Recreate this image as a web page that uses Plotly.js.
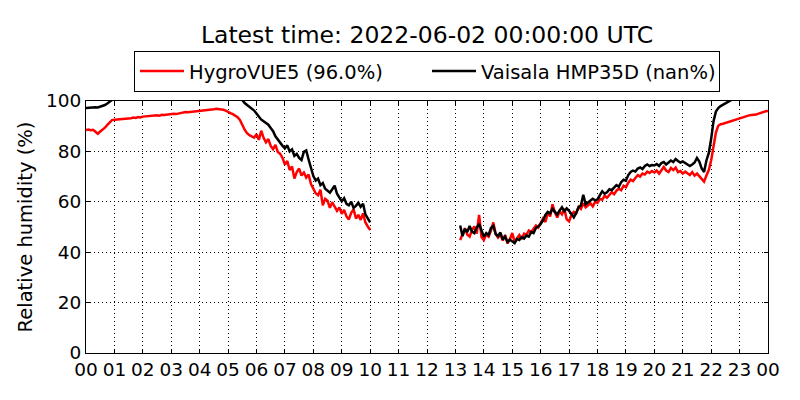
<!DOCTYPE html>
<html>
<head>
<meta charset="utf-8">
<script src="https://cdn.plot.ly/plotly-3.0.1.min.js"></script>
<style>
  body { margin: 0; background: #ffffff; }
  #rhPlot { width: 800px; height: 400px; }
</style>
</head>
<body>
<div id="rhPlot"></div>
<script>
// hour labels for the x axis (00 .. 23, then 00 of the next day)
var hourTicks = [0, 1, 2, 3, 4, 5, 6, 7, 8, 9, 10, 11, 12, 13, 14, 15, 16, 17, 18, 19, 20, 21, 22, 23, 24];
var hourLabels = ['00', '01', '02', '03', '04', '05', '06', '07', '08', '09', '10', '11',
                  '12', '13', '14', '15', '16', '17', '18', '19', '20', '21', '22', '23', '00'];

// 5 minute samples, one row per hour (null = no data)
var hygroVUE5 = [
  88.5, 88.7, 88.4, 88.6, 87.8, 87.0, 87.9, 88.6, 89.4, 90.5, 91.6, 92.4,
  92.6, 92.7, 92.6, 92.9, 92.8, 93.0, 92.9, 93.2, 93.4, 93.3, 93.6, 93.5,
  93.8, 93.9, 94.1, 93.9, 94.0, 94.2, 94.3, 94.2, 94.5, 94.4, 94.6, 94.5,
  94.7, 94.9, 94.8, 95.0, 95.3, 95.4, 95.6, 95.5, 95.6, 95.8, 95.7, 95.9,
  96.0, 96.1, 96.3, 96.2, 96.5, 96.4, 96.7, 96.9, 96.8, 96.7, 96.5, 96.2,
  95.6, 95.2, 94.8, 94.3, 93.6, 92.5, 90.4, 88.6, 87.2, 86.4, 86.0, 85.5,
  86.8, 84.6, 88.2, 85.4, 83.6, 84.9, 82.2, 80.9, 82.6, 79.8, 79.0, 77.4,
  74.8, 76.2, 72.6, 74.0, 69.2, 71.8, 73.2, 70.4, 71.6, 69.6, 70.8, 67.0,
  65.2, 63.4, 62.6, 64.8, 58.6, 61.2, 60.4, 57.6, 59.8, 58.2, 56.4, 57.8,
  55.2, 56.8, 54.2, 53.0, 55.6, 57.0, 53.4, 54.8, 52.8, 55.4, 51.8, 50.2,
  48.8, null, null, null, null, null, null, null, null, null, null, null,
  null, null, null, null, null, null, null, null, null, null, null, null,
  null, null, null, null, null, null, null, null, null, null, null, null,
  null, null, 44.8, 47.5, 49.5, 47.0, 46.2, 48.8, 50.2, 47.4, 54.8, 46.0,
  44.8, 47.0, 46.2, 48.5, 51.8, 47.2, 45.8, 47.0, 44.6, 46.8, 43.5, 45.2,
  47.6, 44.2, 45.6, 46.8, 45.2, 47.4, 47.0, 48.6, 48.0, 49.2, 50.6, 49.8,
  51.5, 53.4, 52.0, 55.6, 54.2, 59.0, 55.8, 53.8, 56.2, 55.0, 57.2, 53.0,
  52.2, 54.8, 56.0, 55.4, 58.0, 57.2, 59.4, 57.8, 58.6, 59.4, 58.2, 60.0,
  59.6, 61.2, 60.8, 62.4, 61.6, 62.8, 63.8, 63.0, 64.4, 65.2, 64.6, 66.4,
  65.8, 67.6, 68.8, 68.2, 69.4, 70.6, 70.0, 71.2, 70.8, 72.0, 71.4, 72.2,
  71.6, 72.4, 71.2, 72.6, 73.8, 72.4, 71.8, 73.4, 72.6, 73.6, 71.8, 72.2,
  71.2, 72.0, 71.4, 70.6, 71.8, 70.4, 71.2, 70.2, 69.0, 68.0, 70.4, 72.6,
  76.5, 82.5, 87.5, 90.2, 90.8, 91.0, 91.3, 91.6, 92.0, 92.3, 92.5, 92.8,
  93.2, 93.6, 93.9, 94.2, 94.3, 94.4, 94.5, 94.6, 95.0, 95.4, 95.7, 95.9,
  96.0
];

var vaisalaHMP35D = [
  97.2, 97.3, 97.2, 97.4, 97.5, 97.4, 97.7, 98.0, 98.4, 99.0, 99.8, 100.6,
  101.2, 101.4, 101.5, 101.4, 101.6, 101.5, 101.7, 101.6, 101.8, 101.7, 101.8, 101.9,
  101.8, 101.9, 102.0, 101.9, 102.0, 102.1, 102.0, 102.1, 102.2, 102.1, 102.2, 102.1,
  102.2, 102.3, 102.2, 102.3, 102.4, 102.3, 102.4, 102.3, 102.4, 102.5, 102.4, 102.5,
  102.4, 102.5, 102.4, 102.5, 102.6, 102.5, 102.6, 102.5, 102.4, 102.4, 102.3, 102.2,
  102.1, 102.0, 101.9, 101.8, 101.6, 101.2, 100.4, 99.2, 98.4, 97.6, 97.0, 96.2,
  95.0, 93.6, 92.6, 92.0, 91.4, 90.6, 89.3, 88.0, 86.0, 84.6, 83.4, 82.2,
  81.2, 82.4, 80.0, 80.8, 78.2, 79.0, 77.4, 76.6, 79.8, 80.4, 76.8, 73.6,
  70.2, 68.4, 69.2, 66.6, 67.4, 65.2, 64.2, 63.6, 65.0, 66.4, 63.2, 61.6,
  60.2, 61.4, 59.2, 58.6, 60.0, 57.6, 58.4, 59.6, 58.0, 59.2, 55.0, 53.4,
  51.8, null, null, null, null, null, null, null, null, null, null, null,
  null, null, null, null, null, null, null, null, null, null, null, null,
  null, null, null, null, null, null, null, null, null, null, null, null,
  null, null, 50.6, 46.4, 49.2, 48.0, 50.4, 48.2, 47.6, 49.8, 51.2, 48.4,
  46.2, 47.6, 46.8, 49.6, 50.4, 47.2, 46.4, 47.8, 45.0, 46.2, 44.0, 45.0,
  44.4, 43.6, 45.2, 44.8, 46.0, 45.4, 46.6, 46.2, 48.0, 47.6, 49.6, 50.2,
  51.2, 52.6, 54.8, 56.0, 55.4, 57.2, 56.0, 55.0, 56.6, 57.8, 56.2, 57.4,
  56.4, 55.2, 53.8, 55.6, 57.8, 58.6, 62.8, 59.0, 59.8, 60.4, 61.2, 60.6,
  61.0, 62.6, 64.2, 63.2, 63.8, 65.0, 64.6, 65.6, 66.6, 66.0, 67.8, 68.8,
  68.4, 70.6, 71.8, 72.4, 72.0, 73.2, 73.6, 73.0, 74.2, 74.8, 74.2, 74.6,
  74.4, 75.0, 74.2, 75.4, 75.8, 74.8, 75.6, 76.4, 75.8, 77.0, 76.2, 75.6,
  76.0, 75.4, 75.0, 74.2, 74.8, 75.6, 77.4, 76.0, 73.2, 71.8, 76.4, 79.4,
  85.0, 92.0, 95.8, 97.2, 98.0, 98.6, 99.2, 99.7, 100.3, 100.8, 101.2, 101.4,
  101.5, 101.6, 101.5, 101.7, 101.6, 101.8, 101.7, 101.9, 101.8, 102.0, 101.9, 102.0,
  null
];

// sample times in hours since midnight
var hours = hygroVUE5.map(function (v, i) { return i / 12; });

function createHumidityPlot() {
  var red = {
    x: hours,
    y: hygroVUE5,
    mode: 'lines',
    name: 'HygroVUE5 (96.0%)',
    connectgaps: false,
    line: { color: '#ff0000', width: 2.5 }
  };

  var black = {
    x: hours,
    y: vaisalaHMP35D,
    mode: 'lines',
    name: 'Vaisala HMP35D (nan%)',
    connectgaps: false,
    line: { color: '#000000', width: 2.5 }
  };

  var tickFont = { family: 'DejaVu Sans', size: 18.5, color: '#000000' };

  var layout = {
    width: 800,
    height: 400,
    margin: { l: 86, r: 32, t: 101, b: 47 },
    paper_bgcolor: '#ffffff',
    plot_bgcolor: '#ffffff',
    font: { family: 'DejaVu Sans', color: '#000000' },
    title: {
      text: 'Latest time: 2022-06-02 00:00:00 UTC',
      font: { family: 'DejaVu Sans', size: 23.5, color: '#000000' },
      xref: 'paper',
      x: 0.5,
      xanchor: 'center',
      y: 0.912,
      yanchor: 'middle'
    },
    showlegend: true,
    legend: {
      orientation: 'h',
      x: 0.5,
      xanchor: 'center',
      y: 1.036,
      yanchor: 'bottom',
      bordercolor: '#000000',
      borderwidth: 1,
      bgcolor: '#ffffff',
      itemwidth: 44,
      entrywidth: 233,
      font: { family: 'DejaVu Sans', size: 19.5, color: '#000000' }
    },
    xaxis: {
      range: [0, 24],
      tickvals: hourTicks,
      ticktext: hourLabels,
      tickfont: tickFont,
      ticks: 'inside',
      ticklen: 4,
      tickcolor: '#000000',
      showline: true,
      linecolor: '#000000',
      linewidth: 1,
      mirror: 'ticks',
      showgrid: true,
      gridcolor: '#000000',
      gridwidth: 1,
      griddash: '1px,3px',
      zeroline: false
    },
    yaxis: {
      range: [0, 100],
      tick0: 0,
      dtick: 20,
      tickfont: tickFont,
      ticks: 'inside',
      ticklen: 4,
      tickcolor: '#000000',
      showline: true,
      linecolor: '#000000',
      linewidth: 1,
      mirror: 'ticks',
      showgrid: true,
      gridcolor: '#000000',
      gridwidth: 1,
      griddash: '1px,3px',
      zeroline: false,
      title: {
        text: 'Relative humidity (%)',
        font: { family: 'DejaVu Sans', size: 19.5, color: '#000000' },
        standoff: 8
      }
    }
  };

  Plotly.newPlot('rhPlot', [red, black], layout, { displayModeBar: false, staticPlot: true });
}

createHumidityPlot();
</script>
</body>
</html>
